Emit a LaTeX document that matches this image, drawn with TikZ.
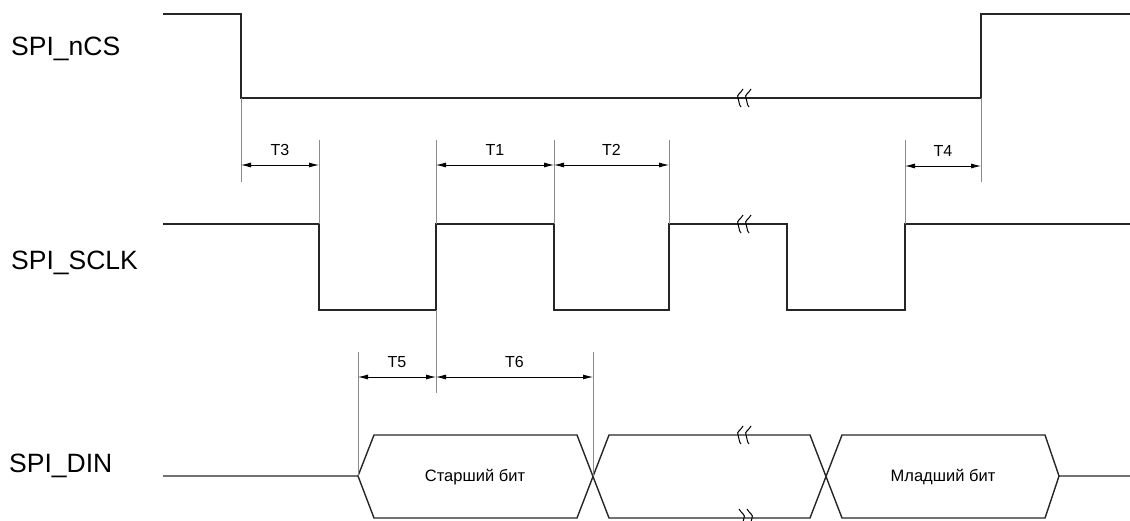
\documentclass[tikz,border=0pt]{standalone}
\usepackage{fontspec}
\setmainfont{Liberation Sans}
\usetikzlibrary{arrows.meta}
\begin{document}
\begin{tikzpicture}[x=1pt,y=-1pt,
  sig/.style={line width=1.4pt,draw=black!85,line join=miter},
  guide/.style={line width=0.8pt,draw=black!45},
  dim/.style={line width=0.8pt,draw=black,{Latex[length=10pt,width=5pt]}-{Latex[length=10pt,width=5pt]}},
  siglabel/.style={inner sep=0pt,anchor=west,font=\fontsize{26.5}{30}\selectfont},
  tlabel/.style={inner sep=0pt,font=\fontsize{16}{18}\selectfont},
  bitlabel/.style={inner sep=0pt,font=\fontsize{16.5}{19}\selectfont},
  brk/.pic={\draw[line width=1pt,black] (5,-9) .. controls (3,-5) and (-2,-3) .. (0,0) .. controls (2,3) and (0,6) .. (3,9);
            \draw[line width=1pt,black] (13,-9) .. controls (11,-5) and (6,-3) .. (8,0) .. controls (10,3) and (8,6) .. (11,9);}]
\useasboundingbox (0,0) rectangle (1130,521);
% signal labels
\node[siglabel] (lcs) at (11,49) {SPI\_nCS};
\node[siglabel] (lclk) at (11,263) {SPI\_SCLK};
\node[siglabel] (ldin) at (9,466) {SPI\_DIN};
% nCS
\draw[sig] (163,14) -- (241,14) -- (241,98) -- (981,98) -- (981,14) -- (1130,14);
\pic at (738,98) {brk};
% SCLK
\draw[sig] (163,224) -- (319,224) -- (319,310) -- (436,310) -- (436,224) -- (554,224) -- (554,310)
  -- (669,310) -- (669,224) -- (787,224) -- (787,310) -- (905,310) -- (905,224) -- (1130,224);
\pic at (738,224) {brk};
% DIN
\draw[sig] (163,476) -- (358,476) -- (374,435) -- (577,435) -- (609,518) -- (810,518) -- (842,435) -- (1045,435) -- (1059,476) -- (1130,476);
\draw[sig] (358,476) -- (374,518) -- (577,518) -- (609,435) -- (810,435) -- (842,518) -- (1045,518) -- (1059,476);
\pic at (738,435) {brk};
\pic[xscale=-1] at (752,518) {brk};
\node[bitlabel] (msb) at (475,477) {Старший бит};
\node[bitlabel] (lsb) at (943,477) {Младший бит};
% guides
\coordinate (g3a) at (241,182);
\coordinate (g3b) at (319,140);
\coordinate (g1a) at (436,140);
\coordinate (g1b) at (554,140);
\coordinate (g2b) at (669,140);
\coordinate (g4a) at (905,140);
\coordinate (g4b) at (981,182);
\coordinate (g5a) at (358,352);
\coordinate (g5b) at (436,393);
\coordinate (g6b) at (593,352);
\draw[guide] (241,98) -- (g3a);
\draw[guide] (g3b) -- (319,224);
\draw[guide] (g1a) -- (436,224);
\draw[guide] (436,310) -- (g5b);
\draw[guide] (g1b) -- (554,224);
\draw[guide] (g2b) -- (669,224);
\draw[guide] (g4a) -- (905,224);
\draw[guide] (981,98) -- (g4b);
\draw[guide] (g5a) -- (358,476);
\draw[guide] (g6b) -- (593,476);
% dimension arrows
\coordinate (d3a) at (241,165); \coordinate (d3b) at (319,165);
\coordinate (d1a) at (436,165); \coordinate (d1b) at (554,165);
\coordinate (d2b) at (669,165);
\coordinate (d4a) at (905,166); \coordinate (d4b) at (981,166);
\coordinate (d5a) at (358,377); \coordinate (d5b) at (436,377);
\coordinate (d6b) at (593,377);
\draw[dim] (d3a) -- (d3b) node[tlabel,midway,above=9pt] (t3) {T3};
\draw[dim] (d1a) -- (d1b) node[tlabel,midway,above=9pt] (t1) {T1};
\draw[dim] (d1b) -- (d2b) node[tlabel,midway,above=9pt] (t2) {T2};
\draw[dim] (d4a) -- (d4b) node[tlabel,midway,above=9pt] (t4) {T4};
\draw[dim] (d5a) -- (d5b) node[tlabel,midway,above=9pt] (t5) {T5};
\draw[dim] (d5b) -- (d6b) node[tlabel,midway,above=9pt] (t6) {T6};
\end{tikzpicture}
\end{document}
